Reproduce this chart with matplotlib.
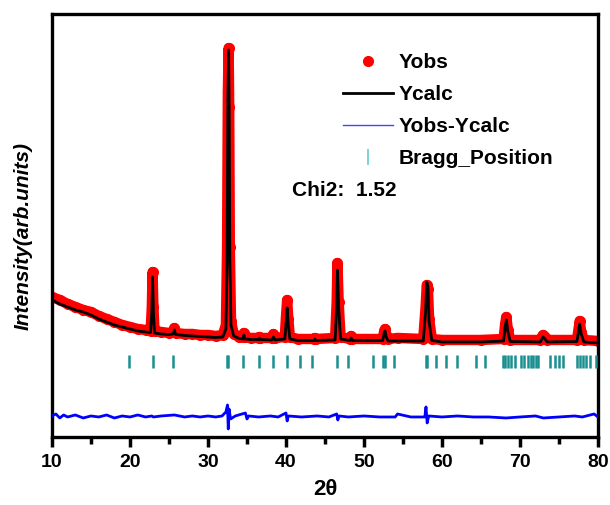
import matplotlib
matplotlib.use("Agg")
import matplotlib.pyplot as plt
from matplotlib.lines import Line2D

plt.rcParams['font.family'] = ['Liberation Sans', 'DejaVu Sans']
plt.rcParams['font.weight'] = 'bold'

# profile (2theta, Ycalc, Yobs)
two_theta = [10.0, 11.0, 12.0, 13.0, 14.0, 15.0, 16.0, 17.0, 18.0, 19.0, 20.0, 21.0, 22.0,
             22.65, 22.8, 22.9, 23.0, 23.15, 24.0, 25.0, 25.55, 25.7, 25.85, 27.0, 28.0, 29.0,
             30.0, 31.0, 31.9, 32.3, 32.45, 32.55, 32.65, 32.72, 32.8, 32.95, 33.3, 34.0,
             34.5, 34.6, 34.7, 35.5, 36.5, 36.6, 36.7, 38.2, 38.4, 38.6, 39.85, 40.0, 40.15,
             40.3, 40.5, 41.5, 43.6, 43.7, 43.8, 46.3, 46.5, 46.6, 46.75, 47.0, 48.2, 48.35,
             48.5, 52.4, 52.6, 52.7, 52.85, 53.1, 54.3, 57.6, 57.9, 58.05, 58.2, 58.35, 58.7,
             60.0, 65.0, 67.9, 68.1, 68.25, 68.45, 68.75, 72.6, 72.95, 73.2, 73.5, 77.3, 77.55,
             77.65, 77.85, 78.2, 80.0]
y_calc = [137, 133, 130, 127, 125, 122, 118, 115, 112, 110, 108, 106, 105,
          104.5, 125, 160, 125, 104, 103, 102.5, 103, 107, 102.5, 101.5, 101, 100.5,
          100, 99.5, 100, 108, 180, 340, 387, 320, 180, 112, 101, 98.5,
          98, 102, 98, 97.5, 97.5, 99, 97.5, 97, 100, 97, 98, 112, 129,
          112, 98, 96.5, 96.5, 98, 96.5, 97, 130, 167, 130, 98, 96.5, 99,
          96.5, 96.5, 104, 106, 100, 96, 96, 96, 125, 155, 150, 115, 96.5,
          95, 95, 96, 110, 117, 105, 95.5, 95, 100, 98, 95, 95.5, 108,
          113, 103, 95, 94]
y_obs = [140, 137, 133, 130, 127, 125, 121, 118, 115, 112, 110, 108, 107,
         106, 130, 165, 130, 106, 105, 104, 105, 109, 104, 103, 103, 102,
         102, 101, 102, 112, 190, 345, 389, 330, 190, 116, 103, 100,
         100, 104, 100, 99, 99, 100, 99, 99, 103, 99, 100, 120, 137,
         118, 100, 98, 98, 99, 98, 99, 135, 174, 135, 100, 98, 101,
         98, 98, 106, 108, 102, 98, 99, 98, 130, 152, 148, 118, 98,
         97, 97, 98, 113, 120, 107, 97, 97, 102, 100, 97, 97, 110,
         116, 105, 97, 96]

# difference curve (offset below the pattern)
diff_x = [10.0, 10.5, 11.0, 11.5, 12.0, 13.0, 14.0, 15.0, 16.0, 17.0, 18.0, 19.0, 20.0,
          21.0, 22.0, 22.8, 23.0, 24.0, 25.7, 27.0, 28.0, 29.0, 30.0, 31.0, 31.8, 32.3,
          32.5, 32.6, 32.7, 32.9, 33.5, 34.8, 35.0, 35.2, 36.5, 38.0, 39.0, 40.0, 40.15,
          40.3, 42.0, 44.0, 45.5, 46.5, 46.65, 46.8, 48.0, 50.0, 52.0, 54.0, 54.3, 56.0,
          57.8, 57.95, 58.1, 58.3, 60.0, 62.0, 64.0, 66.0, 68.2, 70.0, 72.0, 73.0, 75.0,
          77.0, 78.0, 79.5, 80.0]
diff_y = [21, 23, 19, 22, 20, 22, 19, 21, 20, 22, 19, 21, 20,
          22, 20, 21, 20, 21, 22, 20, 21, 20, 21, 20, 21, 25,
          32, 8, 28, 18, 21, 24, 18, 21, 20, 21, 20, 24, 16,
          21, 20, 21, 20, 23, 17, 21, 20, 21, 20, 20, 23, 20,
          20, 30, 14, 21, 20, 21, 20, 20, 19, 20, 21, 19, 20,
          21, 20, 23, 20]

# Bragg reflections
bragg_pos = [19.9, 22.9, 25.5, 32.4, 32.6, 34.5, 36.5, 38.3, 40.1, 41.8, 43.3, 46.6,
             48.0, 51.1, 52.4, 52.7, 53.8, 57.9, 58.1, 59.2, 60.5, 61.9, 64.4, 65.5,
             67.8, 68.1, 68.4, 68.8, 69.3, 70.1, 70.5, 71.0, 71.4, 71.7, 72.0, 72.3,
             73.8, 74.5, 75.0, 75.5, 77.3, 77.7, 78.1, 78.5, 79.0, 79.7]

fig = plt.figure(figsize=(6.1, 5.05), dpi=100)
ax = fig.add_axes([0.0852, 0.1347, 0.8951, 0.8376])

ax.plot(two_theta, y_obs, color='#ff0000', lw=7.5, solid_joinstyle='round',
        solid_capstyle='round', zorder=2)
ax.plot(two_theta, y_obs, 'o', color='#ff0000', ms=7, zorder=2, label='Yobs')
ax.plot(two_theta, y_calc, color='black', lw=2, zorder=3, label='Ycalc')
ax.plot(diff_x, diff_y, color='#0000ff', lw=2, zorder=3, label='Yobs-Ycalc')
ax.vlines(bragg_pos, 69, 82, color='#1a8f8f', lw=1.8, zorder=3)

handles = [Line2D([], [], marker='o', ls='', color='#ff0000', ms=7),
           Line2D([], [], color='black', lw=2),
           Line2D([], [], color='#4444ff', lw=1),
           Line2D([], [], marker='|', ls='', color='#66cccc', ms=11, mew=1.2)]
labels = ['Yobs', 'Ycalc', 'Yobs-Ycalc', 'Bragg_Position']
ax.legend(handles, labels, loc='upper left', bbox_to_anchor=(343 / 610, 1 - 53 / 505),
          bbox_transform=fig.transFigure, frameon=False, fontsize=15,
          handlelength=2.4, handletextpad=0.25, labelspacing=0.63,
          borderpad=0, borderaxespad=0)

fig.text(292 / 610, 1 - 190 / 505, 'Chi2:  1.52', fontsize=15, fontweight='bold',
         va='center', ha='left')

ax.set_xlim(10, 80)
ax.set_ylim(0, 423)
ax.set_xticks(range(10, 81, 10))
ax.set_xticks(range(15, 80, 10), minor=True)
ax.set_yticks([])
ax.tick_params(axis='x', which='major', direction='out', length=7, width=2.5,
               labelsize=14, pad=5)
ax.tick_params(axis='x', which='minor', direction='out', length=5, width=2.5)
for lab in ax.get_xticklabels():
    lab.set_fontweight('bold')
for s in ax.spines.values():
    s.set_linewidth(2.4)

ax.set_xlabel('2θ', fontsize=16, fontweight='bold', labelpad=6)
ax.set_ylabel('Intensity(arb.units)', fontsize=15, fontweight='bold',
              fontstyle='italic')
ax.yaxis.set_label_coords(-0.036, 0.475)

fig.savefig('out.png', dpi=100)
